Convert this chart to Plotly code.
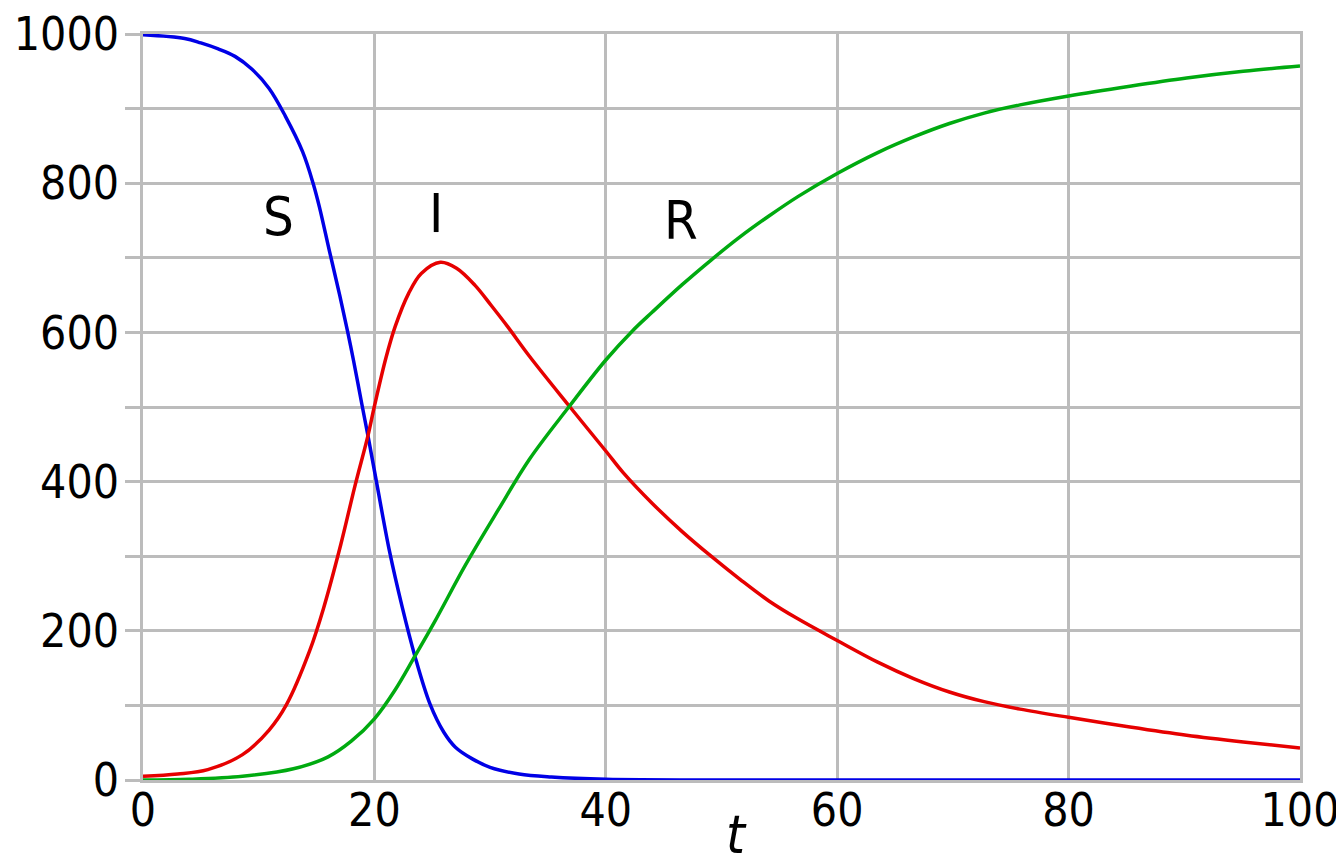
import plotly.graph_objects as go

# ---- data ----
t_S = [0, 3.6, 5.0, 6.5, 7.95, 9.4, 10.9, 12.3, 13.8, 14.7, 15.25, 16.1, 17.0, 17.7, 18.2,
       18.9, 19.45, 20.2, 21.3, 22.4, 23.5, 24.8, 26.0, 27.0, 28.5, 30.0, 32.5, 35.3,
       40, 50, 60, 70, 80, 90, 100]
S = [999, 994, 988, 980, 970, 953, 927, 890, 842, 800, 768, 710, 650, 600, 562,
     505, 461, 398, 307, 232, 166, 102, 64, 44, 28, 17, 8, 4,
     1, 0, 0, 0, 0, 0, 0]

t_I = [0, 3, 5.6, 8.6, 10.9, 12.4, 14.4, 15.6, 17.1, 18.3, 19.45, 20.0, 21.0, 21.8,
       22.95, 24.05, 25.7, 27.1, 28.7, 30.1, 31.5, 33.4, 36.8, 40, 41.5, 44, 46.6,
       49.1, 51.6, 54.1, 56.6, 60, 63.5, 66.6, 69.7, 72.7, 75.8, 80, 85.3, 90.2,
       95.1, 100]
I = [5, 8, 14, 34, 67, 101, 173, 230, 316, 393, 462, 501, 566, 608,
     652, 679, 694, 686, 663, 636, 608, 568, 502, 441, 412, 371, 333,
     300, 269, 240, 216, 187, 158, 136, 118, 105, 95, 84, 71, 60,
     51, 43]

t_R = [0, 4, 8.6, 13, 16, 18, 20, 21.8, 23.5, 25.2, 27.9, 30.7, 33.4, 36.8, 40,
       42.3, 44, 46.6, 49.1, 51.6, 54.1, 56.6, 60, 63.5, 66.6, 69.7, 72.7, 75.8,
       80, 85.3, 90.2, 95.1, 100]
R = [0, 1, 5, 15, 31, 52, 82, 121, 166, 212, 289, 362, 430, 500, 563,
     602, 627, 664, 697, 728, 756, 782, 813, 841, 862, 880, 894, 905,
     917, 930, 941, 950, 957]

x_tick_vals = [0, 20, 40, 60, 80, 100]
x_tick_text = ["0", "20", "40", "60", "80", "100"]
y_tick_vals = [0, 100, 200, 300, 400, 500, 600, 700, 800, 900, 1000]
y_tick_text = ["0", "", "200", "", "400", "", "600", "", "800", "", "1000"]

curve_labels = ["S", "I", "R"]
label_t = [11.7, 25.3, 46.5]
label_v = [755, 759, 750]

FONT = "DejaVu Sans Condensed, Liberation Sans Narrow, Liberation Sans, sans-serif"
GRID = "#bcbcbc"

fig = go.Figure()
for tx, vals, col in [(t_S, S, "#0000e6"), (t_I, I, "#e60000"), (t_R, R, "#00aa10")]:
    fig.add_trace(go.Scatter(x=tx, y=vals, mode="lines",
                             line=dict(color=col, width=3.5, shape="spline", smoothing=1.0),
                             showlegend=False, hoverinfo="skip"))

for txt, tx, vy in zip(curve_labels, label_t, label_v):
    fig.add_annotation(x=tx, y=vy, text=txt, showarrow=False,
                       font=dict(family=FONT, size=54, color="black"))

fig.add_annotation(xref="paper", yref="paper", x=0.513, y=-0.073, yanchor="middle",
                   text="<i>t</i>", showarrow=False,
                   font=dict(family=FONT, size=54, color="black"))

fig.update_xaxes(range=[0, 100], tickvals=x_tick_vals, ticktext=x_tick_text,
                 showgrid=True, gridcolor=GRID, gridwidth=2.5,
                 showline=True, linecolor=GRID, linewidth=2.5, mirror=True,
                 zeroline=False, ticks="", layer="below traces", automargin=False,
                 ticklabelstandoff=-12, ticklabeloverflow="allow",
                 tickfont=dict(family=FONT, size=46, color="black"))
fig.update_yaxes(range=[0, 1000], tickvals=y_tick_vals, ticktext=y_tick_text,
                 showgrid=True, gridcolor=GRID, gridwidth=2.5,
                 showline=True, linecolor=GRID, linewidth=2.5, mirror=True,
                 zeroline=False, ticks="outside", ticklen=15, tickwidth=2.5,
                 tickcolor=GRID, layer="below traces", automargin=False,
                 ticklabelstandoff=-3, ticklabeloverflow="allow",
                 tickfont=dict(family=FONT, size=46, color="black"))

# the page body adds an 8 px offset; size and margins compensate for it
fig.update_layout(width=1336, height=860, plot_bgcolor="white", paper_bgcolor="white",
                  margin=dict(l=135, r=44, t=26, b=88))

fig.write_html("out.html")
